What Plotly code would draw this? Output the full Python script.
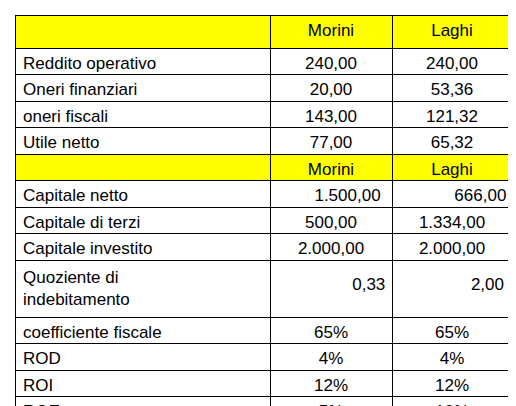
import plotly.graph_objects as go

NB = "\u00a0"
labels = ["Reddito operativo", "Oneri finanziari", "oneri fiscali", "Utile netto", "",
          "Capitale netto", "Capitale di terzi", "Capitale investito",
          "Quoziente di<br>indebitamento", "coefficiente fiscale", "ROD", "ROI", "ROE"]
morini = ["240,00", "20,00", "143,00", "77,00", "Morini", NB * 7 + "1.500,00", "500,00", "2.000,00",
          "<br>" + NB * 16 + "0,33", "65%", "4%", "12%", "5%"]
laghi = ["240,00", "53,36", "121,32", "65,32", "Laghi", NB * 12 + "666,00", "1.334,00", "2.000,00",
         "<br>" + NB * 15 + "2,00", "65%", "4%", "12%", "10%"]
header = ["", "Morini", "Laghi"]

fill = ["#ffff00" if i == 4 else "white" for i in range(len(labels))]

fig = go.Figure(go.Table(
    columnwidth=[255, 122, 120],
    header=dict(values=header, fill_color="#ffff00", line_color="black", line_width=1,
                align="center", height=33,
                font=dict(family="Liberation Sans, Arial", size=17, color="black")),
    cells=dict(values=[labels, morini, laghi],
               fill_color=[fill, fill, fill], line_color="black", line_width=1,
               align=["left", "center", "center"],
               height=26.5,
               font=dict(family="Liberation Sans, Arial", size=17, color="black")),
))
fig.update_layout(width=516, height=406, margin=dict(l=7, r=12, t=7, b=0),
                  paper_bgcolor="white")
fig.write_html("out.html")
